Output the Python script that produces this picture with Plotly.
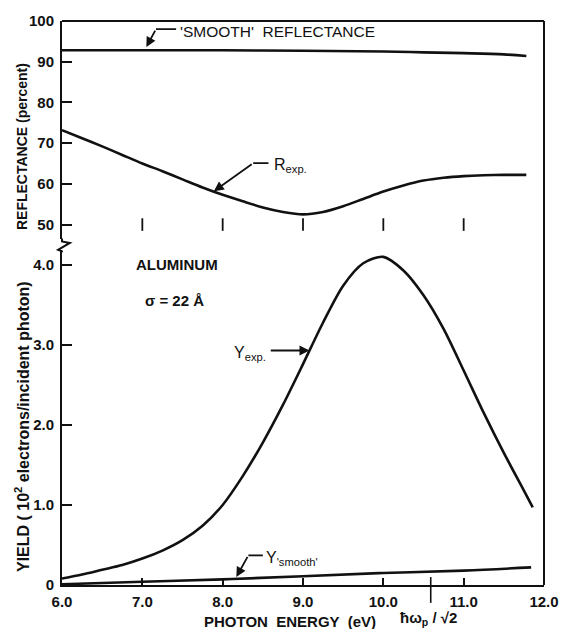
import plotly.graph_objects as go

# ---- data -------------------------------------------------------------
# photon energy grid (eV) for the measured curves
energy_r = [6.0, 6.25, 6.5, 6.75, 7.0, 7.25, 7.5, 7.75, 8.0, 8.25, 8.5, 8.75,
            9.0, 9.25, 9.5, 9.75, 10.0, 10.25, 10.5, 10.75, 11.0, 11.25, 11.5, 11.78]
# measured reflectance (percent)
r_exp = [73.2, 71.2, 69.2, 67.1, 65.0, 63.1, 61.1, 59.1, 57.3, 55.7, 54.2, 53.1,
         52.5, 53.1, 54.5, 56.3, 58.1, 59.6, 60.8, 61.5, 61.9, 62.1, 62.2, 62.2]

# reflectance of an ideally smooth surface (percent)
energy_r_smooth = [6.0, 7.0, 8.0, 9.0, 10.0, 10.5, 11.0, 11.5, 11.78]
r_smooth = [92.8, 92.8, 92.8, 92.7, 92.5, 92.3, 92.1, 91.8, 91.4]

# measured photoelectric yield (10^-2 electrons / incident photon)
energy_y = [6.0, 6.25, 6.5, 6.75, 7.0, 7.25, 7.5, 7.75, 8.0, 8.25, 8.5, 8.75,
            9.0, 9.25, 9.5, 9.75, 10.0, 10.25, 10.5, 10.75, 11.0, 11.25, 11.5, 11.75, 11.86]
y_exp = [0.08, 0.13, 0.19, 0.25, 0.33, 0.43, 0.56, 0.74, 1.00, 1.36, 1.78, 2.25,
         2.76, 3.28, 3.74, 4.02, 4.10, 3.93, 3.62, 3.20, 2.68, 2.15, 1.65, 1.18, 0.97]

# yield of a smooth surface
energy_y_smooth = [6.0, 7.0, 8.0, 9.0, 10.0, 11.0, 11.84]
y_smooth = [0.01, 0.04, 0.07, 0.11, 0.15, 0.18, 0.22]

# axis ticks
x_ticks = [6.0, 7.0, 8.0, 9.0, 10.0, 11.0, 12.0]
x_ticktext = ["6.0", "7.0", "8.0", "9.0", "10.0", "11.0", "12.0"]
refl_ticks = [50, 60, 70, 80, 90, 100]
yield_ticks = [0, 1, 2, 3, 4]
yield_ticktext = ["0", "1.0", "2.0", "3.0", "4.0"]
upper_marks = [7.0, 8.0, 9.0, 10.0, 11.0]

# surface plasmon energy  hbar*omega_p / sqrt(2)
plasmon_sp = 10.59

# ---- layout geometry (pixels) ------------------------------------------
W, H = 571, 629
L, R, T, B = 62, 555, 17, 585
PH = B - T
PW = R - L
lower_top_px = 248       # where the yield axis ends at the break
upper_bot_px = 237       # where the reflectance axis starts above the break
px_per_yield = 80.6
px_per_pct = 4.1

yield_dom = [0, (B - lower_top_px) / PH]
yield_rng = [0, (B - lower_top_px) / px_per_yield]
refl_dom = [(B - upper_bot_px) / PH, 1]
refl_rng = [100 - (upper_bot_px - T) / px_per_pct, 100]


def px_x(px):
    return (px - L) / PW


def px_y(py):
    return (B - py) / PH


FONT = "Liberation Sans, Arial, sans-serif"
INK = "#111111"
CURVE_W = 2.6

fig = go.Figure()

fig.add_trace(go.Scatter(x=energy_r_smooth, y=r_smooth, mode="lines",
                         line=dict(color=INK, width=CURVE_W, shape="spline"),
                         xaxis="x2", yaxis="y2", showlegend=False))
fig.add_trace(go.Scatter(x=energy_r, y=r_exp, mode="lines",
                         line=dict(color=INK, width=CURVE_W, shape="spline", smoothing=0.8),
                         xaxis="x2", yaxis="y2", showlegend=False))
fig.add_trace(go.Scatter(x=upper_marks, y=[50] * len(upper_marks), mode="markers",
                         marker=dict(symbol="line-ns", size=9,
                                     line=dict(color=INK, width=1.8)),
                         xaxis="x2", yaxis="y2", showlegend=False, cliponaxis=False))
fig.add_trace(go.Scatter(x=energy_y, y=y_exp, mode="lines",
                         line=dict(color=INK, width=CURVE_W, shape="spline", smoothing=0.8),
                         xaxis="x", yaxis="y", showlegend=False))
fig.add_trace(go.Scatter(x=energy_y_smooth, y=y_smooth, mode="lines",
                         line=dict(color=INK, width=CURVE_W, shape="spline"),
                         xaxis="x", yaxis="y", showlegend=False, cliponaxis=False))

tickfont = dict(family=FONT, size=15, color=INK, weight="bold")

fig.update_layout(
    width=W, height=H,
    margin=dict(l=L, r=W - R, t=T, b=H - B),
    paper_bgcolor="white", plot_bgcolor="white",
    xaxis=dict(domain=[0, 1], range=[6, 12], anchor="y",
               tickvals=x_ticks, ticktext=x_ticktext, ticks="inside",
               ticklen=7, tickwidth=1.5, tickcolor=INK,
               showline=True, linecolor=INK, linewidth=2,
               showgrid=False, zeroline=False, tickfont=tickfont,
               ticklabelstandoff=2),
    xaxis2=dict(domain=[0, 1], range=[6, 12], anchor="y2", matches="x",
                visible=False),
    yaxis=dict(domain=yield_dom, range=yield_rng, anchor="x",
               tickvals=yield_ticks, ticktext=yield_ticktext, ticks="inside",
               ticklen=10, tickwidth=1.5, tickcolor=INK,
               showline=True, linecolor=INK, linewidth=2,
               showgrid=False, zeroline=False, tickfont=tickfont,
               ticklabelstandoff=3),
    yaxis2=dict(domain=refl_dom, range=refl_rng, anchor="x2",
                tickvals=refl_ticks, ticks="inside",
                ticklen=10, tickwidth=1.5, tickcolor=INK,
                showline=True, linecolor=INK, linewidth=2,
                showgrid=False, zeroline=False, tickfont=tickfont,
                ticklabelstandoff=3),
)

# frame: top and right edges, axis break on the left, plasmon marker
frame = dict(color=INK, width=2)
fig.add_shape(type="line", xref="paper", yref="paper", x0=0, x1=1, y0=1, y1=1, line=frame)
fig.add_shape(type="line", xref="paper", yref="paper", x0=1, x1=1, y0=0, y1=1, line=frame)
brk = [(62, 236), (62, 239), (70, 240.5), (58, 247.5), (62, 249), (62, 250)]
path = "M " + " L ".join(f"{px_x(a):.5f},{px_y(b):.5f}" for a, b in brk)
fig.add_shape(type="path", xref="paper", yref="paper", path=path,
              line=dict(color=INK, width=2))
fig.add_shape(type="line", xref="x", yref="paper", x0=plasmon_sp, x1=plasmon_sp,
              y0=px_y(603), y1=px_y(577), line=dict(color=INK, width=1.6))

# leader lines (horizontal part) for the curve labels
lead = dict(color=INK, width=1.8)
fig.add_shape(type="line", xref="x2", yref="y2", x0=7.17, x1=7.42, y0=98.0, y1=98.0, line=lead)
fig.add_shape(type="line", xref="x2", yref="y2", x0=8.38, x1=8.57, y0=65.1, y1=65.1, line=lead)
fig.add_shape(type="line", xref="x", yref="y", x0=8.32, x1=8.50, y0=0.37, y1=0.37, line=lead)

annots = []


def arrow(x, y, ax, ay, xr, yr):
    annots.append(dict(x=x, y=y, ax=ax, ay=ay, xref=xr, yref=yr, axref=xr, ayref=yr,
                       text="", showarrow=True, arrowhead=2, arrowsize=1.1,
                       arrowwidth=1.8, arrowcolor=INK, standoff=0, startstandoff=0))


arrow(7.05, 93.6, 7.17, 98.0, "x2", "y2")
arrow(7.89, 58.2, 8.38, 65.1, "x2", "y2")
arrow(9.08, 2.93, 8.58, 2.93, "x", "y")
arrow(8.17, 0.10, 8.32, 0.37, "x", "y")


def label(text, x, y, xr, yr, size=16, anchor="left", weight="normal"):
    annots.append(dict(text=text, x=x, y=y, xref=xr, yref=yr, showarrow=False,
                       xanchor=anchor, yanchor="middle",
                       font=dict(family=FONT, size=size, color=INK, weight=weight)))


label("'SMOOTH'  REFLECTANCE", 7.45, 97.3, "x2", "y2", size=15.5)
label("R<sub>exp.</sub>", 8.61, 64.5, "x2", "y2", size=16)
label("ALUMINUM", 7.43, 4.0, "x", "y", size=15, anchor="center", weight="bold")
label("σ = 22 Å", 7.40, 3.56, "x", "y", size=15, anchor="center", weight="bold")
label("Y<sub>exp.</sub>", 8.56, 2.89, "x", "y", size=16, anchor="right")
label("Y<sub>'smooth'</sub>", 8.52, 0.33, "x", "y", size=16)

# axis titles
annots.append(dict(text="REFLECTANCE (percent)", x=px_x(21), y=px_y(143),
                   xref="paper", yref="paper", showarrow=False, textangle=-90,
                   xanchor="center", yanchor="middle",
                   font=dict(family=FONT, size=14, color=INK, weight="bold")))
annots.append(dict(text="YIELD ( 10<sup>2</sup> electrons/incident photon)",
                   x=px_x(21), y=px_y(425), xref="paper", yref="paper",
                   showarrow=False, textangle=-90, xanchor="center", yanchor="middle",
                   font=dict(family=FONT, size=16, color=INK, weight="bold")))
annots.append(dict(text="PHOTON  ENERGY  (eV)", x=px_x(295), y=px_y(622),
                   xref="paper", yref="paper", showarrow=False,
                   xanchor="center", yanchor="middle",
                   font=dict(family=FONT, size=15, color=INK, weight="bold")))
annots.append(dict(text="ħω<sub>p</sub> / √2", x=plasmon_sp - 0.03, y=px_y(619),
                   xref="x", yref="paper", showarrow=False,
                   xanchor="center", yanchor="middle",
                   font=dict(family=FONT, size=15, color=INK, weight="bold")))

fig.update_layout(annotations=annots)

fig.write_html("out.html")
